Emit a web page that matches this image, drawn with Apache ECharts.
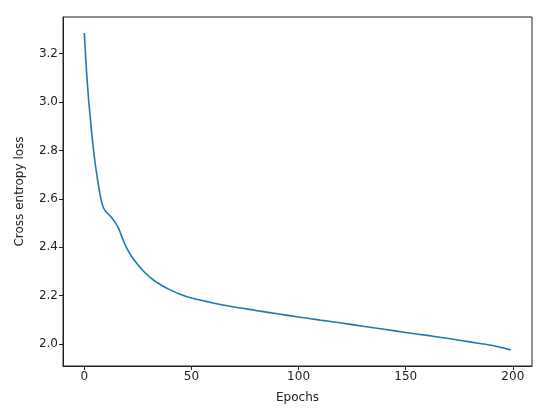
<!DOCTYPE html>
<html>
<head>
<meta charset="utf-8">
<script src="https://cdn.jsdelivr.net/npm/echarts@6/dist/echarts.min.js"></script>
<style>html,body{margin:0;padding:0;background:#fff}#c{width:550px;height:420px}</style>
</head>
<body>
<div id="c"></div>
<script>
const epochs = [0,1,2,3,4,5,6,7,8,9,10,12,14,16,18,20,22,25,28,32,36,40,45,50,60,70,80,90,100,110,120,130,140,150,160,170,180,190,199];
const loss = [3.285,3.13,3.01,2.915,2.825,2.75,2.69,2.635,2.59,2.562,2.548,2.53,2.508,2.478,2.432,2.393,2.363,2.328,2.298,2.266,2.243,2.224,2.205,2.190,2.170,2.153,2.139,2.125,2.112,2.099,2.087,2.074,2.061,2.048,2.036,2.023,2.009,1.995,1.976];
const xTicks = [0,50,100,150,200];
const yTicks = [2.0,2.2,2.4,2.6,2.8,3.0,3.2];

const data = epochs.map((e,i)=>[e, loss[i]]);
const font = 'DejaVu Sans';
const chart = echarts.init(document.getElementById('c'), null, {renderer:'canvas'});
chart.setOption({
  animation:false,
  backgroundColor:'#fff',
  grid:{left:63,top:17,right:18,bottom:54,show:true,borderColor:'#222',borderWidth:1,backgroundColor:'transparent'},
  xAxis:{
    type:'value', min:-9.95, max:208.95,
    name:'Epochs', nameLocation:'middle', nameGap:26,
    nameTextStyle:{fontFamily:font,fontSize:12,color:'#222'},
    axisLine:{show:true,onZero:false,lineStyle:{color:'#222',width:1}},
    axisTick:{show:true,length:4,lineStyle:{color:'#222'},customValues:xTicks},
    axisLabel:{fontFamily:font,fontSize:12,color:'#222',margin:5,customValues:xTicks,formatter:v=>String(v)},
    splitLine:{show:false}
  },
  yAxis:{
    type:'value', min:1.9095, max:3.351,
    name:'Cross entropy loss', nameLocation:'middle', nameGap:37,
    nameTextStyle:{fontFamily:font,fontSize:12,color:'#222'},
    axisLine:{show:true,onZero:false,lineStyle:{color:'#222',width:1}},
    axisTick:{show:true,length:4,lineStyle:{color:'#222'},customValues:yTicks},
    axisLabel:{fontFamily:font,fontSize:12,color:'#222',margin:5,customValues:yTicks,formatter:v=>v.toFixed(1)},
    splitLine:{show:false}
  },
  series:[{
    type:'line', data:data, smooth:0.3, showSymbol:false,
    lineStyle:{color:'#1f77b4',width:1.6}
  }]
});
</script>
</body>
</html>
